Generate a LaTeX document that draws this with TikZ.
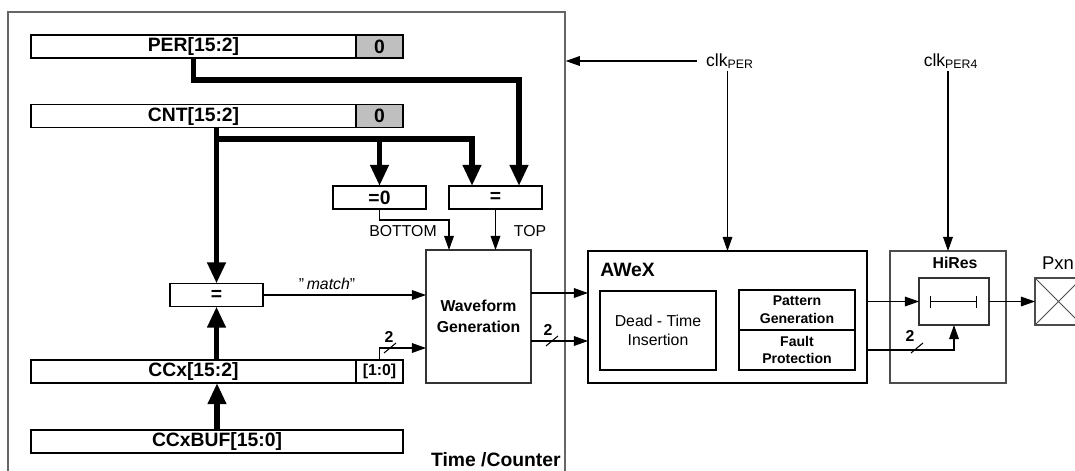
\documentclass[tikz,border=0pt]{standalone}
\usepackage{fontspec}
\setmainfont{Liberation Sans}
\usetikzlibrary{arrows.meta,positioning}

\begin{document}
\begin{tikzpicture}[>={Triangle[length=8pt,width=5.5pt]},
  reg/.style={draw,line width=1.1pt,inner sep=0pt,outer sep=0pt,minimum height=0.46cm,font=\bfseries\fontsize{11}{12}\selectfont},
  cmp/.style={reg,minimum width=1.86cm},
  blk/.style={draw,inner sep=0pt,outer sep=0pt,align=center},
  sig/.style={->,line width=0.6pt},
  bus/.style={line width=3.4pt,-{Triangle[length=12pt,width=10pt]}},
  txt/.style={inner sep=1pt,font=\fontsize{9}{10}\selectfont},
  bt/.style={inner sep=1pt,font=\bfseries\fontsize{9}{10}\selectfont}]
\clip (0,0) rectangle (21.5,-9.4);
\node[draw=black!60,line width=0.8pt,inner sep=0pt,minimum width=11.14cm,minimum height=9.76cm] (tc) at (5.73,-5.12) {};
\node[font=\bfseries\fontsize{11}{12}\selectfont,anchor=east,inner sep=0pt] (tclbl) at (11.22,-9.2) {Time /Counter};

\node[reg,minimum width=6.5cm] (per) at (3.87,-0.93) {PER[15:2]};
\node[reg,minimum width=0.94cm,fill=black!25,right=0pt of per] (per0) {0};
\node[reg,minimum width=6.5cm] (cnt) at (3.87,-2.32) {CNT[15:2]};
\node[reg,minimum width=0.94cm,fill=black!25,right=0pt of cnt] (cnt0) {0};
\node[reg,minimum width=6.5cm] (ccx) at (3.87,-7.43) {CCx[15:2]};
\node[reg,minimum width=0.94cm,right=0pt of ccx,font=\bfseries\fontsize{9}{10}\selectfont] (ccx0) {[1:0]};
\node[reg,minimum width=7.44cm] (ccxbuf) at (4.34,-8.83) {CCxBUF[15:0]};

\node[cmp] (eqz) at (7.59,-3.95) {=0};
\node[cmp] (eqt) at (9.91,-3.95) {=};
\node[cmp] (eqm) at (4.33,-5.9) {=};
\node[blk,draw=black!80,line width=0.7pt,minimum width=2.1cm,minimum height=2.66cm,font=\bfseries\fontsize{9}{12}\selectfont] (wave) at (9.57,-6.33) {Waveform\\Generation};

\coordinate (cntbus) at (4.33,-2.78);
\draw[bus] (per.south) -- ++(0,-0.44) -| ([xshift=0.47cm]eqt.north);
\draw[bus] (eqm.north |- cnt.south) -- (eqm.north);
\draw[bus] (cntbus) -| ([xshift=-0.47cm]eqt.north);
\draw[bus] (cntbus -| eqz.north) -- (eqz.north);
\draw[bus] (eqm.south |- ccx.north) -- (eqm.south);
\draw[bus] (ccxbuf.north) -- (ccxbuf.north |- ccx.south);

\draw[sig] (eqz.south) -- ++(0,-0.22) -| ([xshift=-0.59cm]wave.north);
\node[txt] (lblbot) at (8.06,-4.62) {BOTTOM};
\draw[sig] (eqt.south) -- (eqt.south |- wave.north);
\node[txt] (lbltop) at (10.6,-4.62) {TOP};
\draw[sig] (eqm.east) -- (eqm.east -| wave.west);
\node[txt] (lblmatch) at (6.54,-5.68) {"\,\textit{match}"};
\draw[sig] (ccx0.north) |- ([yshift=-0.63cm]wave.west);
\draw[line width=0.6pt] (7.68,-7.06) -- (7.92,-6.86);
\node[bt] (w1) at (7.78,-6.74) {2};

\node[blk,line width=1.3pt,minimum width=5.58cm,minimum height=2.64cm] (awex) at (14.55,-6.34) {};
\node[anchor=west,inner sep=0pt,font=\bfseries\fontsize{11}{12}\selectfont] (awexlbl) at (12.0,-5.4) {AWeX};
\node[blk,line width=1.1pt,minimum width=2.32cm,minimum height=1.58cm,font=\fontsize{9}{10.5}\selectfont] (dti) at (13.16,-6.61) {Dead - Time\\Insertion};
\node[blk,line width=1.1pt,minimum width=2.32cm,minimum height=0.8cm,font=\bfseries\fontsize{8}{10}\selectfont] (pat) at (15.94,-6.2) {Pattern\\Generation};
\node[blk,line width=1.1pt,minimum width=2.32cm,minimum height=0.8cm,font=\bfseries\fontsize{8}{10}\selectfont,below=0pt of pat] (flt) {Fault\\Protection};

\draw[sig] ([yshift=0.47cm]wave.east) -- ([yshift=0.47cm]wave.east -| awex.west);
\draw[sig] ([yshift=-0.49cm]wave.east) -- ([yshift=-0.49cm]wave.east -| awex.west);
\draw[line width=0.6pt] (10.92,-6.92) -- (11.16,-6.72);
\node[bt] (w2) at (10.96,-6.6) {2};

\node[blk,draw=black!70,line width=0.6pt,minimum width=2.32cm,minimum height=2.64cm] (hires) at (18.96,-6.34) {};
\node[bt] (hireslbl) at (19.1,-5.26) {HiRes};
\node[blk,draw=black!80,line width=0.8pt,minimum width=1.4cm,minimum height=0.94cm] (dly) at (19.08,-6.03) {};
\draw[{Bar[width=0.24cm]}-{Bar[width=0.24cm]},line width=0.6pt] ([xshift=-0.48cm]dly.center) -- ([xshift=0.46cm]dly.center);
\node[blk,draw=black!70,line width=0.6pt,minimum size=0.94cm,path picture={\draw[black!70,line width=0.5pt] (path picture bounding box.south west) -- (path picture bounding box.north east) (path picture bounding box.north west) -- (path picture bounding box.south east);}] (pxn) at (21.17,-6.03) {};
\node[inner sep=1pt,font=\fontsize{10.5}{12}\selectfont] (pxnlbl) at (21.16,-5.26) {Pxn};

\draw[sig] (dly.west -| awex.east) -- (dly.west);
\draw[sig] (flt.east -| awex.east) -| (dly.south);
\draw[line width=0.6pt] (18.22,-7.06) -- (18.46,-6.86);
\node[bt] (w3) at (18.2,-6.72) {2};
\draw[sig] (dly.east) -- (pxn.west);

\node[inner sep=1pt,font=\fontsize{10}{12}\selectfont] (clkper) at (14.6,-1.22) {clk\textsubscript{PER}};
\node[inner sep=1pt,font=\fontsize{10}{12}\selectfont] (clkperf) at (19.02,-1.22) {clk\textsubscript{PER4}};
\draw[sig] ([xshift=-0.15cm]clkper.west) -- (clkper.west -| tc.east);
\draw[sig] (awex.north |- clkper.south) -- (awex.north);
\draw[sig] (hires.north |- clkperf.south) -- (hires.north);
\end{tikzpicture}
\end{document}
